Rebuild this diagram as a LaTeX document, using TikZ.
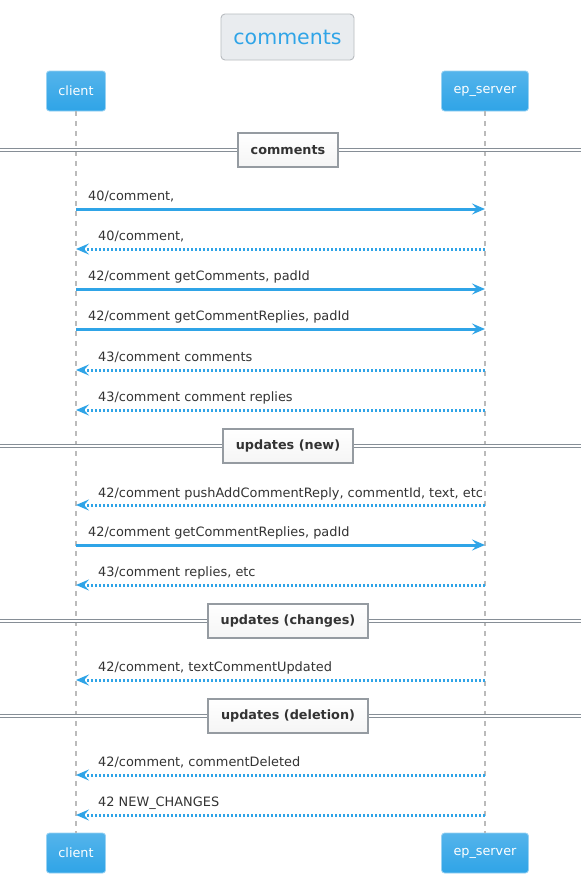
\documentclass[tikz,border=0pt]{standalone}
\usepackage{fontspec}
\setmainfont{DejaVu Sans}
\usetikzlibrary{arrows.meta}
\definecolor{cblue}{HTML}{2FA4E7}
\definecolor{cbluetop}{HTML}{54B4EB}
\definecolor{ctext}{HTML}{333333}
\definecolor{lgray}{HTML}{BBBBBB}
\definecolor{sepgray}{HTML}{868E96}
\definecolor{titlefill}{HTML}{E9ECEF}
\definecolor{titledraw}{HTML}{B8BCC0}
\definecolor{sepdraw}{HTML}{959BA1}
\tikzset{
  x=1pt, y=-1pt,
  party/.style={draw=cbluetop!60!white, line width=0.8pt, rounded corners=3pt, top color=cbluetop, bottom color=cblue, text=white, font=\fontsize{12.8}{14}\selectfont, minimum height=40pt, inner xsep=12pt},
  titlebox/.style={draw=titledraw, fill=titlefill, line width=0.9pt, rounded corners=4pt, text=cblue, font=\fontsize{20.5}{24}\selectfont, minimum height=46pt, minimum width=133pt},
  sepbox/.style={draw=sepdraw, top color=white, bottom color=black!4, line width=2pt, text=ctext, font=\bfseries\fontsize{12.8}{14}\selectfont, minimum height=34pt, inner xsep=13pt},
  sepline/.style={draw=sepgray, double=white, double distance=2.4pt, line width=1.1pt},
  lifeline/.style={draw=lgray, line width=2pt, dash pattern=on 5pt off 5pt},
  msglabel/.style={text=ctext, font=\fontsize{12.9}{15}\selectfont, anchor=base west, inner sep=0pt},
  callarrow/.style={draw=cblue, line width=3pt, -{Stealth[length=13pt,width=11pt,inset=5pt]}},
  retarrow/.style={draw=cblue, line width=3pt, dash pattern=on 2.5pt off 1.5pt, -{Stealth[length=13pt,width=11pt,inset=5pt]}},
}
\begin{document}
\begin{tikzpicture}
\useasboundingbox (0,0) rectangle (581,878);
\fill[white] (0,0) rectangle (581,878);
% title
\node[titlebox] (title) at (287.5,37) {comments};
% participants
\node[party] (ctop) at (76,91) {client};
\node[party] (stop) at (485,91) {ep\_server};
\node[party] (cbot) at (76,853) {client};
\node[party] (sbot) at (485,853) {ep\_server};
\draw[lifeline] (ctop.south) -- (cbot.north);
\draw[lifeline] (stop.south) -- (sbot.north);
% separators
\foreach \y/\t/\n in {150/comments/s1, 446/updates (new)/s2, 621/updates (changes)/s3, 716/updates (deletion)/s4}{
  \coordinate (\n L) at (0,\y);
  \coordinate (\n R) at (581,\y);
  \draw[sepline] (\n L) -- (\n R);
  \node[sepbox] (\n) at (288,\y) {\t};
}
% messages
\coordinate (c1) at (76,209); \coordinate (s1m) at (485,209);
\draw[callarrow] (c1) -- (s1m);
\node[msglabel] (l1) at (88,200) {40/comment,};
\coordinate (c2) at (76,249); \coordinate (s2m) at (485,249);
\draw[retarrow] (s2m) -- (c2);
\node[msglabel] (l2) at (98,240) {40/comment,};
\coordinate (c3) at (76,289); \coordinate (s3m) at (485,289);
\draw[callarrow] (c3) -- (s3m);
\node[msglabel] (l3) at (88,280) {42/comment getComments, padId};
\coordinate (c4) at (76,329); \coordinate (s4m) at (485,329);
\draw[callarrow] (c4) -- (s4m);
\node[msglabel] (l4) at (88,320) {42/comment getCommentReplies, padId};
\coordinate (c5) at (76,370); \coordinate (s5m) at (485,370);
\draw[retarrow] (s5m) -- (c5);
\node[msglabel] (l5) at (98,361) {43/comment comments};
\coordinate (c6) at (76,410); \coordinate (s6m) at (485,410);
\draw[retarrow] (s6m) -- (c6);
\node[msglabel] (l6) at (98,401) {43/comment comment replies};
\coordinate (c7) at (76,505); \coordinate (s7m) at (485,505);
\draw[retarrow] (s7m) -- (c7);
\node[msglabel] (l7) at (98,497) {42/comment pushAddCommentReply, commentId, text, etc};
\coordinate (c8) at (76,545); \coordinate (s8m) at (485,545);
\draw[callarrow] (c8) -- (s8m);
\node[msglabel] (l8) at (88,536) {42/comment getCommentReplies, padId};
\coordinate (c9) at (76,585); \coordinate (s9m) at (485,585);
\draw[retarrow] (s9m) -- (c9);
\node[msglabel] (l9) at (98,576) {43/comment replies, etc};
\coordinate (c10) at (76,680); \coordinate (s10m) at (485,680);
\draw[retarrow] (s10m) -- (c10);
\node[msglabel] (l10) at (98,671) {42/comment, textCommentUpdated};
\coordinate (c11) at (76,775); \coordinate (s11m) at (485,775);
\draw[retarrow] (s11m) -- (c11);
\node[msglabel] (l11) at (98,766) {42/comment, commentDeleted};
\coordinate (c12) at (76,815); \coordinate (s12m) at (485,815);
\draw[retarrow] (s12m) -- (c12);
\node[msglabel] (l12) at (98,806) {42 NEW\_CHANGES};
\end{tikzpicture}
\end{document}
